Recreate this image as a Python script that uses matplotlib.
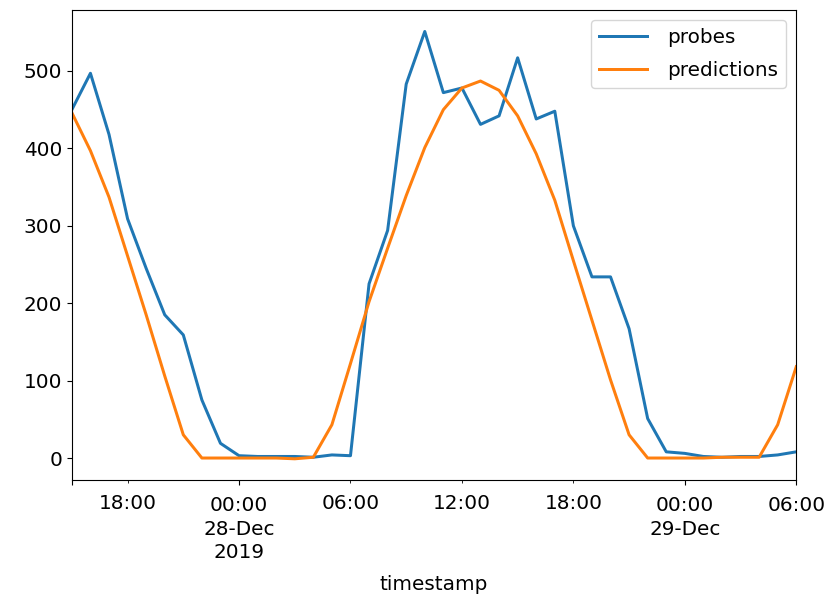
import pandas as pd
import matplotlib
matplotlib.use("Agg")
import matplotlib.pyplot as plt

# hourly readings from 27-Dec-2019 15:00 to 29-Dec-2019 06:00
start = "2019-12-27 15:00"
n_hours = 40

probes = [450, 497, 418, 309, 245, 185, 159, 75, 19, 3,
          2, 2, 2, 1, 4, 3, 225, 294, 483, 551,
          472, 478, 431, 442, 517, 438, 448, 300, 234, 234,
          167, 51, 8, 6, 2, 1, 2, 2, 4, 8]

predictions = [446, 397, 337, 261, 185, 106, 30, 0, 0, 0,
               0, 0, -1, 1, 43, 122, 202, 271, 339, 401,
               450, 478, 487, 475, 442, 393, 333, 255, 178, 101,
               30, 0, 0, 0, 0, 1, 1, 1, 43, 118]

plt.rcParams["font.size"] = 14.4

timestamp = pd.date_range(start, periods=n_hours, freq="h", name="timestamp")
df = pd.DataFrame({"probes": probes, "predictions": predictions}, index=timestamp)

fig, ax = plt.subplots(figsize=(8.26, 5.95), dpi=100)
fig.subplots_adjust(left=0.087, right=0.964, top=0.983, bottom=0.193)
df.plot(ax=ax, lw=2.16)
ax.legend(loc="upper right", handlelength=2.4, handletextpad=1.0,
          labelspacing=0.7)

# slightly roomier date labels, like the reference
ax.tick_params(axis="x", which="both", pad=8)
fig.canvas.draw()
for lbl in ax.get_xticklabels(which="both"):
    lbl.set_linespacing(1.3)
ax.xaxis.labelpad = 9

fig.savefig("out.png", dpi=100)
